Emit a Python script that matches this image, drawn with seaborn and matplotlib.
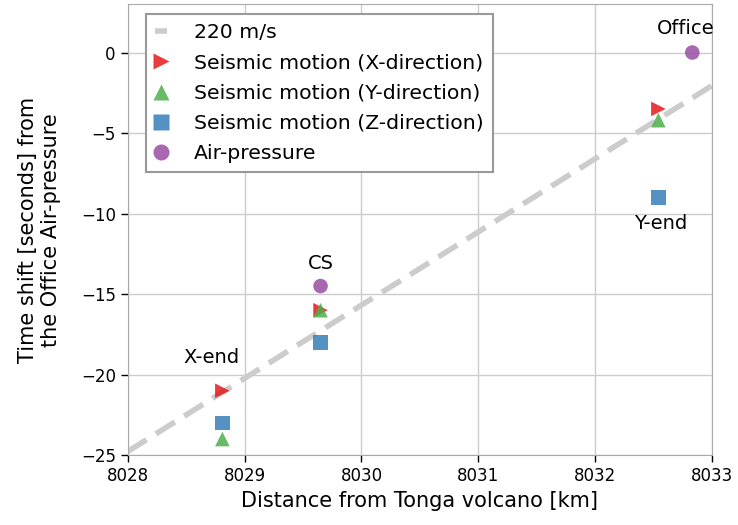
import numpy as np
import pandas as pd
import matplotlib
matplotlib.use("Agg")
import matplotlib.pyplot as plt
import seaborn as sns

# station distances from the volcano [km]
sites = ["X-end", "CS", "Y-end", "Office"]
dist = [8028.81, 8029.65, 8032.54, 8032.83]

# time shifts [s] relative to the Office air-pressure arrival
shift_x = [-21.0, -16.0, -3.5, None]
shift_y = [-24.0, -16.0, -4.2, None]
shift_z = [-23.0, -18.0, -9.0, None]
shift_air = [None, -14.5, None, 0.0]

speed = 220.0            # m/s
line_origin = 8033.45    # km where the 220 m/s line crosses zero
line_x = [8028, 8033]

names = ["Seismic motion (X-direction)", "Seismic motion (Y-direction)",
         "Seismic motion (Z-direction)", "Air-pressure"]
colors = ["#e41a1c", "#4daf4a", "#377eb8", "#984ea3"]
marks = [">", "^", "s", "o"]

rows = []
for name, vals in zip(names, [shift_x, shift_y, shift_z, shift_air]):
    for site, d, v in zip(sites, dist, vals):
        if v is not None:
            rows.append({"site": site, "dist": d, "shift": v, "kind": name})
df = pd.DataFrame(rows)

sns.set_style("whitegrid")
plt.rcParams["font.family"] = ["DejaVu Sans"]
plt.rcParams["text.color"] = "black"
plt.rcParams["axes.labelcolor"] = "black"
plt.rcParams["xtick.color"] = "black"
plt.rcParams["ytick.color"] = "black"

fig = plt.figure(figsize=(7.38, 5.25), dpi=100)
ax = fig.add_axes([0.173, 0.133, 0.792, 0.859])

lx = np.array(line_x, dtype=float)
ax.plot(lx, (lx - line_origin) * 1000 / speed, color="#cccccc", lw=4,
        dashes=(4, 2), label="220 m/s", zorder=1)

sns.scatterplot(data=df, x="dist", y="shift", hue="kind", style="kind",
                hue_order=names, style_order=names,
                palette=dict(zip(names, colors)), markers=dict(zip(names, marks)),
                s=110, alpha=0.85, edgecolor="none", ax=ax, zorder=3)

ax.set_xlim(8028, 8033)
ax.set_ylim(-25, 3)
ax.set_xticks(range(8028, 8034))
ax.set_yticks([0, -5, -10, -15, -20, -25])
ax.ticklabel_format(axis="x", useOffset=False, style="plain")
ax.tick_params(axis="both", labelsize=12, direction="out", length=5,
               width=1, color="black", left=True, bottom=True)
for sp in ax.spines.values():
    sp.set_color("#aaaaaa")
ax.grid(color="#cccccc", lw=1)

ax.set_xlabel("Distance from Tonga volcano [km]", fontsize=15)
ax.set_ylabel("Time shift [seconds] from\nthe Office Air-pressure", fontsize=15,
              labelpad=14)

# station labels
label_pos = {"X-end": (-8, 24), "CS": (0, 16), "Y-end": (1.5, -19), "Office": (-5, 17)}
label_y = {"X-end": shift_x[0], "CS": shift_air[1], "Y-end": shift_z[2], "Office": shift_air[3]}
for site, d in zip(sites, dist):
    ax.annotate(site, (d, label_y[site]), xytext=label_pos[site],
                textcoords="offset points", ha="center", va="center", fontsize=14)

h, l = ax.get_legend_handles_labels()
order = [l.index("220 m/s")] + [l.index(n) for n in names]
leg = ax.legend([h[i] for i in order], [l[i] for i in order], loc="upper left",
                bbox_to_anchor=(0.031, 0.978), borderaxespad=0,
                fontsize=14.7, frameon=True, fancybox=False, edgecolor="#999999",
                handlelength=0.6, handletextpad=1.3, labelspacing=0.55,
                borderpad=0.45, markerscale=1.1, framealpha=1)
leg.get_frame().set_linewidth(1.5)

fig.savefig("out.png", dpi=100)
